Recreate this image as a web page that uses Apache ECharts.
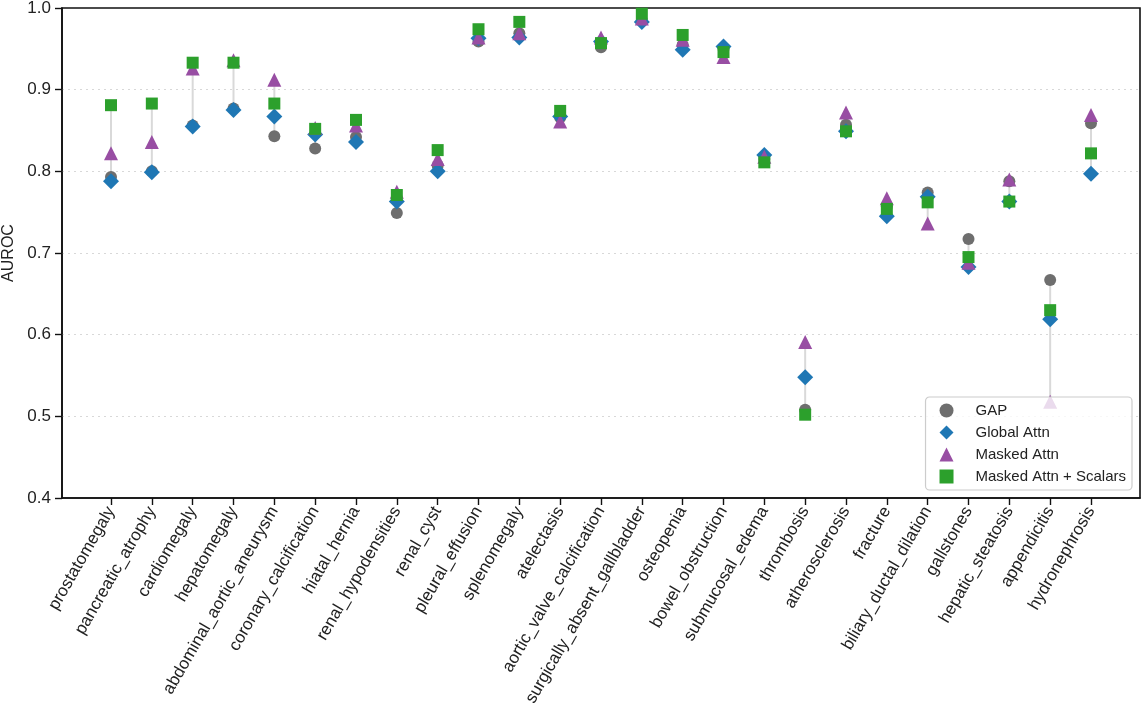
<!DOCTYPE html>
<html>
<head>
<meta charset="utf-8">
<script src="https://cdn.jsdelivr.net/npm/echarts@6/dist/echarts.min.js"></script>
<style>html,body{margin:0;padding:0;background:#fff}#c{width:1142px;height:719px}</style>
</head>
<body>
<div id="c"></div>
<script>
const categories = ['prostatomegaly','pancreatic_atrophy','cardiomegaly','hepatomegaly','abdominal_aortic_aneurysm','coronary_calcification','hiatal_hernia','renal_hypodensities','renal_cyst','pleural_effusion','splenomegaly','atelectasis','aortic_valve_calcification','surgically_absent_gallbladder','osteopenia','bowel_obstruction','submucosal_edema','thrombosis','atherosclerosis','fracture','biliary_ductal_dilation','gallstones','hepatic_steatosis','appendicitis','hydronephrosis'];
const gap        = [0.793,0.800,0.856,0.877,0.843,0.828,0.842,0.749,0.807,0.959,0.969,0.866,0.952,0.985,0.955,0.950,0.815,0.508,0.857,0.757,0.774,0.717,0.788,0.667,0.859];
const globalAttn = [0.788,0.799,0.855,0.875,0.867,0.845,0.836,0.763,0.800,0.963,0.964,0.867,0.959,0.983,0.949,0.953,0.820,0.548,0.849,0.745,0.769,0.683,0.763,0.619,0.797];
const maskedAttn = [0.822,0.836,0.926,0.936,0.912,0.853,0.856,0.775,0.815,0.964,0.969,0.861,0.964,0.987,0.961,0.940,0.818,0.591,0.872,0.767,0.736,0.688,0.790,0.518,0.869];
const maskedScal = [0.881,0.883,0.933,0.933,0.883,0.852,0.863,0.771,0.826,0.974,0.983,0.874,0.957,0.993,0.967,0.946,0.811,0.502,0.849,0.754,0.762,0.695,0.763,0.630,0.822];
const yTicks = [0.4,0.5,0.6,0.7,0.8,0.9,1.0];

const idx = categories.map((_, i) => i);
const ranges = idx.map(i => {
  const v = [gap[i], globalAttn[i], maskedAttn[i], maskedScal[i]];
  return [i, Math.min(...v), Math.max(...v)];
});
const font = 'Liberation Sans, Arial, sans-serif';
const pts = arr => arr.map((v, i) => [i, v]);

const chart = echarts.init(document.getElementById('c'));
chart.setOption({
  animation: false,
  grid: { left: 62, right: 2, top: 8, bottom: 221, outerBoundsMode: 'none', show: true, borderColor: '#111', borderWidth: 1.6, backgroundColor: 'transparent' },
  xAxis: {
    type: 'value', min: -1.2, max: 25.2,
    axisLine: { show: true, onZero: false, lineStyle: { color: '#111', width: 1.6 } },
    axisTick: { show: true, length: 7, lineStyle: { color: '#111', width: 1.4 }, customValues: idx },
    axisLabel: { customValues: idx, rotate: 60, color: '#222', fontSize: 17, fontFamily: font, margin: 10,
      formatter: v => categories[Math.round(v)] || '' },
    splitLine: { show: false }
  },
  yAxis: {
    type: 'value', min: 0.4, max: 1.0, interval: 0.1,
    name: 'AUROC', nameLocation: 'middle', nameGap: 44,
    nameTextStyle: { color: '#222', fontSize: 16, fontFamily: font },
    axisLine: { show: true, onZero: false, lineStyle: { color: '#111', width: 1.6 } },
    axisTick: { show: true, length: 7, lineStyle: { color: '#111', width: 1.4 } },
    axisLabel: { color: '#222', fontSize: 17, fontFamily: font, margin: 11,
      formatter: v => { const t = yTicks.find(x => Math.abs(x - v) < 1e-6); return t !== undefined ? t.toFixed(1) : ''; } },
    splitLine: { show: true, showMinLine: false, showMaxLine: false, lineStyle: { color: '#d8d8d8', type: [2, 4], width: 1 } }
  },
  legend: {
    orient: 'vertical', right: 10, bottom: 229, z: 10,
    backgroundColor: 'rgba(255,255,255,0.8)', borderColor: '#cccccc', borderWidth: 1.2, borderRadius: 4,
    padding: [6, 6, 6, 14], itemWidth: 14, itemHeight: 14, itemGap: 7,
    textStyle: { color: '#222', fontSize: 15, fontFamily: font, padding: [0, 0, 0, 17] },
    data: [
      { name: 'GAP', icon: 'circle' },
      { name: 'Global Attn', icon: 'diamond' },
      { name: 'Masked Attn', icon: 'triangle' },
      { name: 'Masked Attn + Scalars', icon: 'rect' }
    ]
  },
  series: [
    {
      type: 'custom', name: 'range', z: 1, silent: true,
      data: ranges,
      renderItem: (params, api) => {
        const a = api.coord([api.value(0), api.value(1)]);
        const b = api.coord([api.value(0), api.value(2)]);
        return { type: 'line', shape: { x1: a[0], y1: a[1], x2: b[0], y2: b[1] },
          style: { stroke: '#d9d9d9', lineWidth: 2 } };
      }
    },
    { type: 'scatter', name: 'GAP', symbol: 'circle', symbolSize: 12, z: 2, data: pts(gap), itemStyle: { color: '#6e6e6e', opacity: 1 } },
    { type: 'scatter', name: 'Global Attn', symbol: 'diamond', symbolSize: 16, z: 3, data: pts(globalAttn), itemStyle: { color: '#1f77b4', opacity: 1 } },
    { type: 'scatter', name: 'Masked Attn', symbol: 'triangle', symbolSize: 14, z: 4, data: pts(maskedAttn), itemStyle: { color: '#984ea3', opacity: 1 } },
    { type: 'scatter', name: 'Masked Attn + Scalars', symbol: 'rect', symbolSize: 12, z: 5, data: pts(maskedScal), itemStyle: { color: '#2ca02c', opacity: 1 } }
  ]
});
</script>
</body>
</html>
